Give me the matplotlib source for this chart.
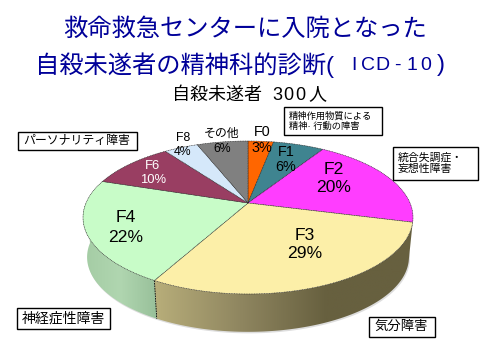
import numpy as np
import matplotlib
matplotlib.use("Agg")
import matplotlib.pyplot as plt
from matplotlib.patches import Polygon, Rectangle
from matplotlib.colors import LinearSegmentedColormap

plt.rcParams['font.family'] = ['Liberation Sans', 'Noto Sans CJK JP']

codes = ["F0", "F1", "F2", "F3", "F4", "F6", "F8", "その他"]
values = [3, 6, 20, 29, 22, 10, 4, 6]
colors = ["#FF6600", "#3F8490", "#FF3DFF", "#FCEFA8", "#C8FCC8", "#993E62", "#D5E8FA", "#808080"]
text_colors = ["black", "black", "black", "black", "black", "white", "black", "black"]
label_pos = [(262, 132), (286, 152), (334, 169), (305, 235), (126, 218), (153, 166), (183, 138), (222, 134)]
label_size = [10.4, 10.4, 12.6, 12.6, 12.6, 9.4, 8.8, 8.6]
label_gap = [16, 15, 19, 18, 19, 14, 14, 15]

boxes = [
    ("パーソナリティ障害", 18, 132, 119, 18, 8.6),
    ("精神作用物質による\n精神· 行動の障害", 284, 107, 98, 28, 6.7),
    ("統合失調症・\n妄想性障害", 393, 147, 85, 33, 7.8),
    ("神経症性障害", 17, 308, 93, 21, 10),
    ("気分障害", 369, 317, 66, 20, 9.6),
]


def top_xy(t):
    # 時計回り、上が0
    u, v = np.sin(t), np.cos(t)
    w = 1 + 0.1895 * v
    return 248 + 162 * u / w, 203 - 73.75 * v / w


def bottom_xy(t):
    u, v = np.sin(t), np.cos(t)
    w = 1 + 0.1895 * v
    return 248 + 158 * u / w, 243 - 72 * v / w


fig = plt.figure(figsize=(4.96, 3.59), dpi=100)
ax = fig.add_axes([0, 0, 1, 1])
ax.set_xlim(0, 496)
ax.set_ylim(359, 0)
ax.axis("off")

edges = np.cumsum([0] + values) / sum(values) * 2 * np.pi

# 影
t = np.linspace(0, 2 * np.pi, 300)
bx, by = bottom_xy(t)
ax.add_patch(Polygon(np.c_[bx + 1, by + 1.5], fc="#DDDDDD", ec="none", zorder=1))


def side(t0, t1, cols):
    t = np.linspace(t0, t1, 120)
    x0, y0 = top_xy(t)
    x1, y1 = bottom_xy(t)
    poly = Polygon(np.r_[np.c_[x0, y0], np.c_[x1, y1][::-1]], fc="none", ec="none", zorder=2)
    ax.add_patch(poly)
    cmap = LinearSegmentedColormap.from_list("s", cols)
    left, right = min(x0.min(), x1.min()), max(x0.max(), x1.max())
    im = ax.imshow(np.linspace(0, 1, 256).reshape(1, -1), cmap=cmap, aspect="auto",
                   extent=[left, right, 340, 200], zorder=2)
    im.set_clip_path(poly)
    ax.set_xlim(0, 496)
    ax.set_ylim(359, 0)
    return x0, y0, x1, y1


# 側面 F2〜F4
side(edges[3] - 0.05, edges[3] + 0.02, ["#8A1F8A", "#8A1F8A"])
s3 = side(edges[3], edges[4], ["#B8AE7A", "#8F8660", "#67603F", "#67603F"])
s4 = side(edges[4], 1.5 * np.pi, ["#A4CCA4", "#B0D6B0", "#98C09A"])
ax.plot([s3[0][-1], s3[2][-1]], [s3[1][-1], s3[3][-1]], color="black", lw=0.6, ls=(0, (2, 1)), zorder=3)

# 上面
for i, val in enumerate(values):
    t = np.linspace(edges[i], edges[i + 1], 80)
    x, y = top_xy(t)
    pts = np.r_[[[248, 203]], np.c_[x, y]]
    ax.add_patch(Polygon(pts, fc=colors[i], ec="#222222", lw=0.4, ls=(0, (2, 1)), zorder=4))
    lx, ly = label_pos[i]
    ax.text(lx, ly, codes[i], color=text_colors[i], fontsize=label_size[i], ha="center", va="center", zorder=6)
    pct_size = 8.8 if codes[i] == "その他" else label_size[i]
    ax.text(lx, ly + label_gap[i], f"{val}%", color=text_colors[i], fontsize=pct_size, ha="center", va="center", zorder=6)

# タイトル
navy = "#000099"
ax.text(245.5, 30, "救命救急センターに入院となった", color=navy, fontsize=17.5, ha="center", va="center")
ax.text(35, 65, "自殺未遂者の精神科的診断(", color=navy, fontsize=17.5, ha="left", va="center")
for k, ch in enumerate("ICD-10"):
    ax.text(354 + k * 14.4, 65, ch, color=navy, fontsize=14, ha="center", va="center")
ax.text(445, 65, ")", color=navy, fontsize=17.5, ha="right", va="center")

ax.text(172, 95, "自殺未遂者", color="black", fontsize=13, ha="left", va="center")
for k, ch in enumerate("300"):
    ax.text(277 + k * 11.5, 95, ch, color="black", fontsize=13, ha="center", va="center")
ax.text(317, 95, "人", color="black", fontsize=13, ha="center", va="center")

for txt, x, y, w, h, fs in boxes:
    ax.add_patch(Rectangle((x, y), w, h, fc="white", ec="black", lw=1, zorder=7))
    ax.text(x + 5, y + h / 2, txt, fontsize=fs, ha="left", va="center", zorder=8, linespacing=1.2)

fig.savefig("out.png", dpi=100)
